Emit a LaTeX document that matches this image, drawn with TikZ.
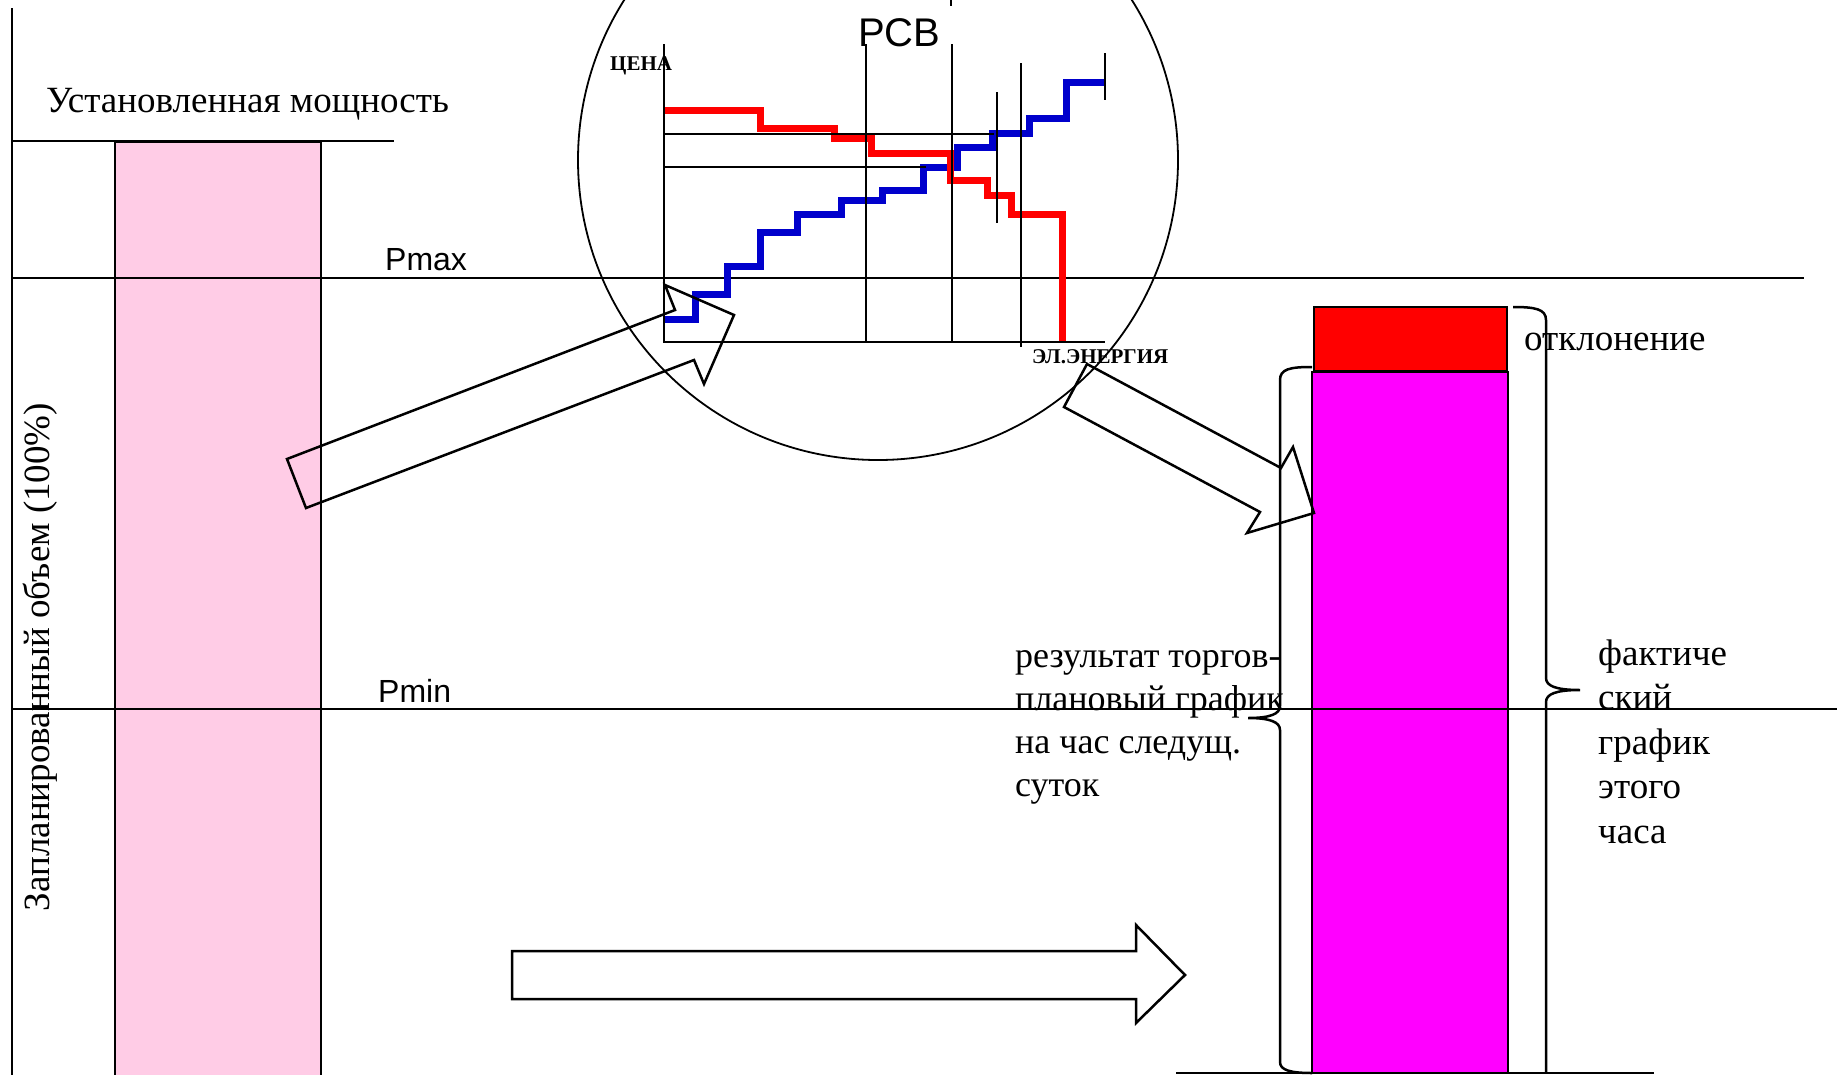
\documentclass[tikz,border=0pt]{standalone}
\usepackage{fontspec}
\setmainfont{Liberation Serif}
\setsansfont{Liberation Sans}
\usetikzlibrary{positioning,arrows,calc}

\definecolor{pinkbar}{RGB}{255,204,230}
\definecolor{factbar}{RGB}{255,0,255}
\definecolor{bidblue}{RGB}{0,0,204}

\begin{document}
\begin{tikzpicture}[x=1pt,y=-1pt,
  thin line/.style={line width=1.8pt},
  block arrow/.style={line width=2.5pt, line join=miter},
  curve/.style={line width=7pt, line join=miter},
  lbl/.style={font=\fontsize{37}{37}\selectfont, inner sep=0pt, anchor=base west},
  sanslbl/.style={font=\sffamily\fontsize{32}{32}\selectfont, inner sep=0pt, anchor=base west},
  axislbl/.style={font=\bfseries\fontsize{21}{21}\selectfont, inner sep=0pt, anchor=base west}]

  \useasboundingbox (0,0) rectangle (1839,1074);

  % left bar
  \draw[thin line, fill=pinkbar] (115,142) rectangle (321,1080);
  \draw[thin line] (12,8) -- (12,1080);
  \draw[thin line] (12,141) -- (394,141);
  \node[lbl] (ustmosh) at (46,112) {Установленная мощность};
  \node[lbl, rotate=90, anchor=base] (planvol) at (49,657) {Запланированный объем (100\%)};

  % right bars
  \draw[thin line, fill=factbar] (1312,372) rectangle (1508,1073);
  \draw[line width=2.5pt, fill=red] (1314,307) rectangle (1507,371);
  \draw[thin line] (1176,1073) -- (1654,1073);

  % limits
  \draw[thin line] (12,278) -- (1804,278);
  \draw[thin line] (12,709) -- (1837,709);
  \node[sanslbl] (pmax) at (385,270) {Pmax};
  \node[sanslbl] (pmin) at (378,702) {Pmin};

  % market chart
  \draw[thin line] (878,160) circle [radius=300pt];
  \draw[thin line] (951,0) -- (951,6);
  \node[sanslbl, font=\sffamily\fontsize{40}{40}\selectfont] (rsv) at (858,46) {РСВ};
  \draw[curve, bidblue] (664,319) -| (695,294) -| (727,266) -| (760,232) -| (797,214)
    -| (841,200) -| (882,190) -| (923,167) -| (957,147) -| (992,133) -| (1029,118)
    -| (1066,82) -- (1105,82);
  \draw[curve, red] (664,110) -| (760,128) -| (834,138) -| (871,153) -| (950,180)
    -| (987,195) -| (1011,214) -| (1062,342);
  \draw[thin line] (664,44) -- (664,342) -- (1105,342);
  \draw[thin line] (866,44) -- (866,342);
  \draw[thin line] (952,44) -- (952,342);
  \draw[thin line] (997,92) -- (997,223);
  \draw[thin line] (1021,63) -- (1021,347);
  \draw[thin line] (1105,53) -- (1105,100);
  \draw[thin line] (664,134) -- (994,134);
  \draw[thin line] (664,167) -- (926,167);
  \node[axislbl] (price) at (610,70) {ЦЕНА};
  \node[axislbl] (energy) at (1032,363) {ЭЛ.ЭНЕРГИЯ};

  % block arrows
  \draw[block arrow] (287,459) -- (675,310) -- (665,285) -- (734,315) -- (704,384)
    -- (694,360) -- (306,508) -- cycle;
  \draw[block arrow] (1087,364) -- (1281,468) -- (1293,447) -- (1314,513) -- (1247,533)
    -- (1260,512) -- (1064,407) -- cycle;
  \draw[block arrow] (512,951) -- (1136,951) -- (1136,925) -- (1185,975) -- (1136,1023)
    -- (1136,999) -- (512,999) -- cycle;

  % braces
  \draw[line width=2.5pt] (1312,367) .. controls (1290,367) and (1280,369) .. (1280,380)
    -- (1280,706) .. controls (1280,714) and (1270,718) .. (1248,718)
    .. controls (1270,718) and (1280,722) .. (1280,730)
    -- (1280,1062) .. controls (1280,1070) and (1290,1073) .. (1312,1073);
  \draw[line width=2.5pt] (1513,307) .. controls (1535,307) and (1546,309) .. (1546,320)
    -- (1546,678) .. controls (1546,686) and (1556,690) .. (1580,690)
    .. controls (1556,690) and (1546,694) .. (1546,702) -- (1546,1073);

  \node[lbl] (devtxt) at (1524,350) {отклонение};
  \node[lbl, font=\fontsize{36}{36}\selectfont] (res1) at (1015,667) {результат торгов-};
  \node[lbl, font=\fontsize{36}{36}\selectfont] (res2) at (1015,710) {плановый график};
  \node[lbl, font=\fontsize{36}{36}\selectfont] (res3) at (1015,753) {на час следущ.};
  \node[lbl, font=\fontsize{36}{36}\selectfont] (res4) at (1015,796) {суток};
  \node[lbl] (fact1) at (1598,665) {фактиче};
  \node[lbl] (fact2) at (1598,709) {ский};
  \node[lbl] (fact3) at (1598,754) {график};
  \node[lbl] (fact4) at (1598,798) {этого};
  \node[lbl] (fact5) at (1598,843) {часа};

\end{tikzpicture}
\end{document}
